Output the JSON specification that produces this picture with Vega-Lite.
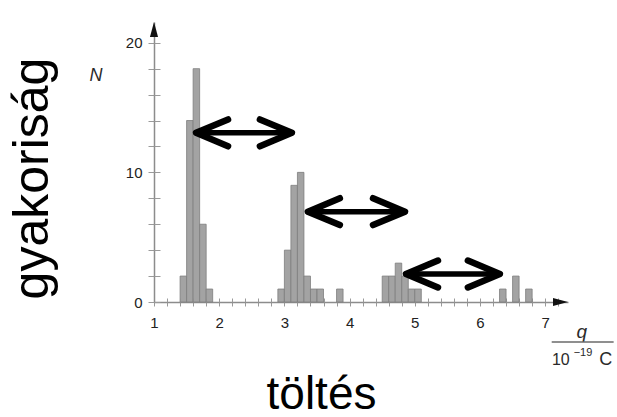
{
  "$schema": "https://vega.github.io/schema/vega-lite/v6.json",
  "width": 414,
  "height": 280,
  "autosize": "none",
  "padding": {"left": 154, "top": 22, "right": 49, "bottom": 115},
  "background": "white",
  "config": {"view": {"stroke": null}, "font": "Liberation Sans"},
  "datasets": {
    "bins": [
      {"q0": 1.4, "q1": 1.5, "n": 2}, {"q0": 1.5, "q1": 1.6, "n": 14}, {"q0": 1.6, "q1": 1.7, "n": 18}, {"q0": 1.7, "q1": 1.8, "n": 6}, {"q0": 1.8, "q1": 1.9, "n": 1},
      {"q0": 2.9, "q1": 3.0, "n": 1}, {"q0": 3.0, "q1": 3.1, "n": 4}, {"q0": 3.1, "q1": 3.2, "n": 9}, {"q0": 3.2, "q1": 3.3, "n": 10}, {"q0": 3.3, "q1": 3.4, "n": 2}, {"q0": 3.4, "q1": 3.5, "n": 1}, {"q0": 3.5, "q1": 3.6, "n": 1},
      {"q0": 3.8, "q1": 3.9, "n": 1},
      {"q0": 4.5, "q1": 4.6, "n": 2}, {"q0": 4.6, "q1": 4.7, "n": 2}, {"q0": 4.7, "q1": 4.8, "n": 3}, {"q0": 4.8, "q1": 4.9, "n": 2}, {"q0": 4.9, "q1": 5.0, "n": 1}, {"q0": 5.0, "q1": 5.1, "n": 1},
      {"q0": 6.3, "q1": 6.4, "n": 1}, {"q0": 6.5, "q1": 6.6, "n": 2}, {"q0": 6.7, "q1": 6.8, "n": 1}
    ],
    "arrows": [
      {"x0": 1.645, "x1": 3.115, "y": 13.05},
      {"x0": 3.36, "x1": 4.85, "y": 6.97},
      {"x0": 4.865, "x1": 6.305, "y": 2.16}
    ],
    "xend": [{"x": 7.35, "y": 0}],
    "yend": [{"x": 1, "y": 21.6}],
    "nlab": [{"t": "N", "x": 0.11, "y": 17.4}],
    "qlab": [{"t": "q", "x": 7.56, "y": -2.3}],
    "frac": [{"x0": 7.1, "x1": 8.05, "y": -3.09}],
    "unit10": [{"t": "10", "x": 7.24, "y": -4.5}],
    "unitexp": [{"t": "−19", "x": 7.58, "y": -3.9}],
    "unitC": [{"t": "C", "x": 7.93, "y": -4.5}]
  },
  "layer": [
    {
      "data": {"name": "bins"},
      "mark": {"type": "rect", "fill": "#a3a3a3", "stroke": "#7d7d7d", "strokeWidth": 0.8},
      "encoding": {
        "x": {"field": "q0", "type": "quantitative", "scale": {"domain": [1, 7.35], "nice": false, "zero": false},
          "axis": {"orient": "bottom", "title": "töltés", "values": [1, 1.2, 1.4, 1.6, 1.8, 2, 2.2, 2.4, 2.6, 2.8, 3, 3.2, 3.4, 3.6, 3.8, 4, 4.2, 4.4, 4.6, 4.8, 5, 5.2, 5.4, 5.6, 5.8, 6, 6.2, 6.4, 6.6, 6.8, 7, 7.2],
            "labelExpr": "datum.value == floor(datum.value) ? format(datum.value, 'd') : ''",
            "grid": false, "domainColor": "#8c8c8c", "domainWidth": 1.5, "tickColor": "#9a9a9a", "tickSize": 4, "tickWidth": 1,
            "labelFontSize": 15, "labelColor": "#222222", "labelPadding": 9, "labelFlush": false, "labelOverlap": false,
            "titleFontSize": 46, "titleFontWeight": "normal", "titleColor": "#000000", "titleX": 167, "titleY": 106, "titleAlign": "center", "titleBaseline": "alphabetic", "titleAnchor": null}},
        "x2": {"field": "q1"},
        "y": {"field": "n", "type": "quantitative", "scale": {"domain": [0, 21.6], "nice": false},
          "axis": {"orient": "left", "title": "gyakoriság", "values": [0, 2, 4, 6, 8, 10, 12, 14, 16, 18, 20],
            "labelExpr": "datum.value % 10 == 0 ? format(datum.value, 'd') : ''",
            "grid": false, "domainColor": "#8c8c8c", "domainWidth": 1.5, "tickColor": "#9a9a9a", "tickSize": 6, "tickWidth": 1,
            "labelFontSize": 15, "labelColor": "#222222", "labelPadding": 6, "labelFlush": false, "labelOverlap": false,
            "titleFontSize": 50, "titleFontWeight": "normal", "titleColor": "#000000", "titleAngle": -90, "titleX": -122, "titleY": 156, "titleAlign": "center", "titleBaseline": "middle", "titleAnchor": null}},
        "y2": {"datum": 0}
      }
    },
    {
      "data": {"name": "arrows"},
      "mark": {"type": "rule", "color": "#000000", "strokeWidth": 5.5, "strokeCap": "round"},
      "encoding": {
        "x": {"field": "x0", "type": "quantitative", "scale": {"domain": [1, 7.35], "nice": false, "zero": false},
          "axis": {"orient": "top", "offset": -280, "title": null, "labels": false, "domain": false, "grid": false,
            "values": [1, 1.2, 1.4, 1.6, 1.8, 2, 2.2, 2.4, 2.6, 2.8, 3, 3.2, 3.4, 3.6, 3.8, 4, 4.2, 4.4, 4.6, 4.8, 5, 5.2, 5.4, 5.6, 5.8, 6, 6.2, 6.4, 6.6, 6.8, 7, 7.2],
            "tickColor": "#9a9a9a", "tickSize": 4, "tickWidth": 1}},
        "x2": {"field": "x1"},
        "y": {"field": "y", "type": "quantitative", "scale": {"domain": [0, 21.6], "nice": false},
          "axis": {"orient": "right", "offset": -414, "title": null, "labels": false, "domain": false, "grid": false,
            "values": [0, 2, 4, 6, 8, 10, 12, 14, 16, 18, 20], "tickColor": "#9a9a9a", "tickSize": 6, "tickWidth": 1}}
      }
    },
    {
      "data": {"name": "arrows"},
      "mark": {"type": "point", "shape": "M1,-0.42L0,0L1,0.42", "filled": false, "size": 4096, "strokeWidth": 6.5, "color": "#000000", "opacity": 1, "strokeCap": "round", "strokeJoin": "round"},
      "encoding": {
        "x": {"field": "x0", "type": "quantitative", "axis": null},
        "y": {"field": "y", "type": "quantitative", "axis": null}
      }
    },
    {
      "data": {"name": "arrows"},
      "mark": {"type": "point", "shape": "M-1,-0.42L0,0L-1,0.42", "filled": false, "size": 4096, "strokeWidth": 6.5, "color": "#000000", "opacity": 1, "strokeCap": "round", "strokeJoin": "round"},
      "encoding": {
        "x": {"field": "x1", "type": "quantitative", "axis": null},
        "y": {"field": "y", "type": "quantitative", "axis": null}
      }
    },
    {
      "data": {"name": "xend"},
      "mark": {"type": "point", "shape": "M0,0L-1,-0.27L-1,0.27Z", "filled": true, "size": 900, "color": "#111111", "opacity": 1},
      "encoding": {
        "x": {"field": "x", "type": "quantitative", "axis": null},
        "y": {"field": "y", "type": "quantitative", "axis": null}
      }
    },
    {
      "data": {"name": "yend"},
      "mark": {"type": "point", "shape": "M0,0L-0.27,1L0.27,1Z", "filled": true, "size": 900, "color": "#111111", "opacity": 1},
      "encoding": {
        "x": {"field": "x", "type": "quantitative", "axis": null},
        "y": {"field": "y", "type": "quantitative", "axis": null}
      }
    },
    {
      "data": {"name": "nlab"},
      "mark": {"type": "text", "fontSize": 18, "fontStyle": "italic", "color": "#2a2a2a", "align": "center", "baseline": "middle"},
      "encoding": {
        "x": {"field": "x", "type": "quantitative", "axis": null},
        "y": {"field": "y", "type": "quantitative", "axis": null},
        "text": {"field": "t"}
      }
    },
    {
      "data": {"name": "qlab"},
      "mark": {"type": "text", "fontSize": 19, "fontStyle": "italic", "color": "#2a2a2a", "align": "center", "baseline": "middle"},
      "encoding": {
        "x": {"field": "x", "type": "quantitative", "axis": null},
        "y": {"field": "y", "type": "quantitative", "axis": null},
        "text": {"field": "t"}
      }
    },
    {
      "data": {"name": "frac"},
      "mark": {"type": "rule", "color": "#6a6a6a", "strokeWidth": 1.5},
      "encoding": {
        "x": {"field": "x0", "type": "quantitative", "axis": null},
        "x2": {"field": "x1"},
        "y": {"field": "y", "type": "quantitative", "axis": null}
      }
    },
    {
      "data": {"name": "unit10"},
      "mark": {"type": "text", "fontSize": 16, "color": "#2a2a2a", "align": "center", "baseline": "middle"},
      "encoding": {
        "x": {"field": "x", "type": "quantitative", "axis": null},
        "y": {"field": "y", "type": "quantitative", "axis": null},
        "text": {"field": "t"}
      }
    },
    {
      "data": {"name": "unitexp"},
      "mark": {"type": "text", "fontSize": 11, "color": "#2a2a2a", "align": "center", "baseline": "middle"},
      "encoding": {
        "x": {"field": "x", "type": "quantitative", "axis": null},
        "y": {"field": "y", "type": "quantitative", "axis": null},
        "text": {"field": "t"}
      }
    },
    {
      "data": {"name": "unitC"},
      "mark": {"type": "text", "fontSize": 18, "color": "#2a2a2a", "align": "center", "baseline": "middle"},
      "encoding": {
        "x": {"field": "x", "type": "quantitative", "axis": null},
        "y": {"field": "y", "type": "quantitative", "axis": null},
        "text": {"field": "t"}
      }
    }
  ],
  "resolve": {"axis": {"x": "independent", "y": "independent"}}
}
